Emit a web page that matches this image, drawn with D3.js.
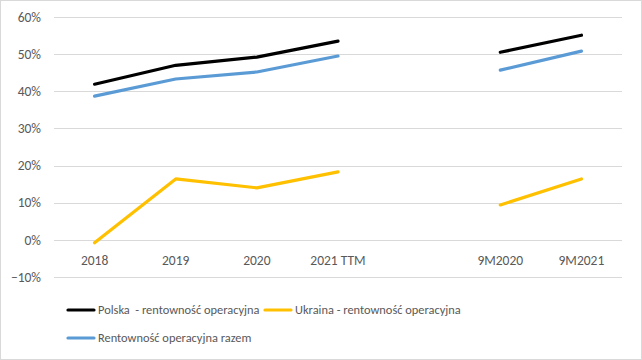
<!DOCTYPE html>
<html>
<head>
<meta charset="utf-8">
<script src="https://cdn.jsdelivr.net/npm/d3@7"></script>
<style>
  body { margin: 0; background: #fff; }
  svg text { font-family: Calibri, Carlito, Lato, sans-serif; fill: #595959; }
</style>
</head>
<body>
<div id="chart"></div>
<script>
const categories = ["2018", "2019", "2020", "2021 TTM", "", "9M2020", "9M2021"];
const polska = [0.419, 0.470, 0.492, 0.535, null, 0.505, 0.551];
const ukraina = [-0.008, 0.164, 0.140, 0.183, null, 0.094, 0.164];
const razem = [0.387, 0.433, 0.452, 0.495, null, 0.457, 0.508];
const yTicks = [-0.1, 0, 0.1, 0.2, 0.3, 0.4, 0.5, 0.6];

const series = [
  { name: "Polska  - rentowność operacyjna", values: polska, color: "#000000" },
  { name: "Ukraina - rentowność operacyjna", values: ukraina, color: "#FFC000" },
  { name: "Rentowność operacyjna razem", values: razem, color: "#5B9BD5" }
];

const width = 642, height = 360;
const margin = { top: 17, right: 20, bottom: 83, left: 54 };

const svg = d3.select("#chart").append("svg")
  .attr("width", width)
  .attr("height", height);

svg.append("rect")
  .attr("x", 0.5).attr("y", 0.5)
  .attr("width", width - 1).attr("height", height - 1)
  .attr("fill", "#fff")
  .attr("stroke", "#d9d9d9");

const x = d3.scaleBand()
  .domain(d3.range(categories.length))
  .range([margin.left, width - margin.right]);

const y = d3.scaleLinear()
  .domain([-0.1, 0.6])
  .range([height - margin.bottom, margin.top]);

// gridlines
svg.append("g")
  .selectAll("line")
  .data(yTicks)
  .join("line")
  .attr("x1", margin.left)
  .attr("x2", width - margin.right)
  .attr("y1", d => Math.round(y(d)) + 0.5)
  .attr("y2", d => Math.round(y(d)) + 0.5)
  .attr("stroke", "#d9d9d9");

// y labels
svg.append("g")
  .selectAll("text")
  .data(yTicks)
  .join("text")
  .attr("x", 41)
  .attr("y", d => y(d))
  .attr("dy", "0.35em")
  .attr("text-anchor", "end")
  .style("font-size", "13.5px")
  .text(d3.format(".0%"));

// x labels
svg.append("g")
  .selectAll("text")
  .data(categories)
  .join("text")
  .attr("x", (d, i) => x(i) + x.bandwidth() / 2)
  .attr("y", 260)
  .attr("dy", "0.35em")
  .attr("text-anchor", "middle")
  .style("font-size", "13.5px")
  .text(d => d);

const line = d3.line()
  .defined(d => d.v !== null)
  .x(d => x(d.i) + x.bandwidth() / 2)
  .y(d => y(d.v));

svg.append("g")
  .selectAll("path")
  .data(series)
  .join("path")
  .attr("fill", "none")
  .attr("stroke", d => d.color)
  .attr("stroke-width", 3.2)
  .attr("stroke-linecap", "round")
  .attr("stroke-linejoin", "round")
  .attr("d", d => line(d.values.map((v, i) => ({ v, i }))));

// legend
const legendPos = [[68, 310], [265, 310], [68, 338]];
const legend = svg.append("g")
  .selectAll("g")
  .data(series)
  .join("g")
  .attr("transform", (d, i) => `translate(${legendPos[i][0]},${legendPos[i][1]})`);

legend.append("line")
  .attr("x1", 0).attr("x2", 26)
  .attr("stroke", d => d.color)
  .attr("stroke-width", 3.2)
  .attr("stroke-linecap", "round");

legend.append("text")
  .attr("x", 30)
  .attr("dy", "0.35em")
  .style("font-size", "12.4px")
  .style("white-space", "pre")
  .text(d => d.name);
</script>
</body>
</html>
